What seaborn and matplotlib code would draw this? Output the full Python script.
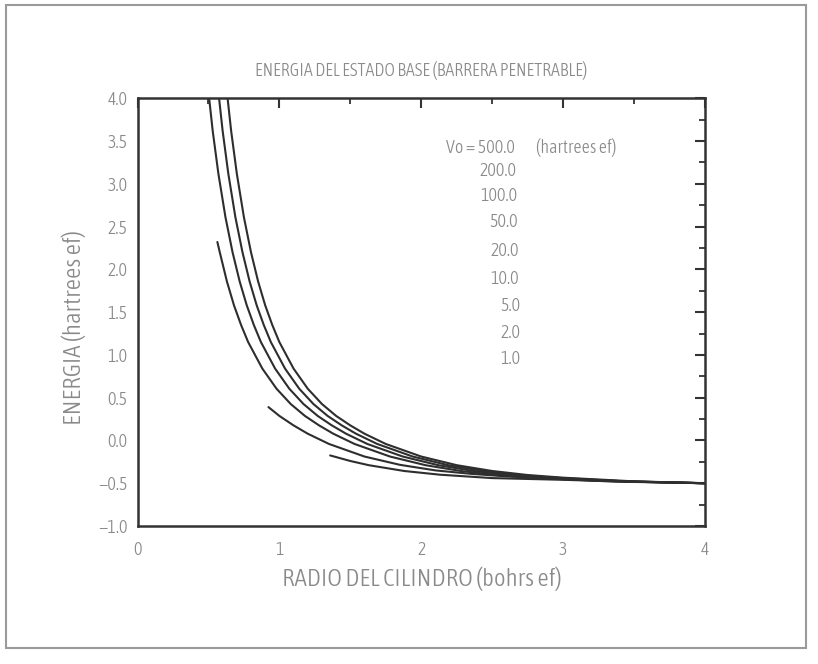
import matplotlib
matplotlib.use("Agg")
import matplotlib.pyplot as plt
import seaborn as sns
import pandas as pd
from matplotlib.patches import Rectangle
from matplotlib.ticker import MultipleLocator
from matplotlib import font_manager as fm

# ---- data ----
r_c1 = [0.635, 0.66, 0.70, 0.75, 0.80, 0.85, 0.90, 0.95, 1.00, 1.10, 1.20, 1.30, 1.40, 1.50,
        1.60, 1.75, 2.00, 2.25, 2.50, 2.75, 3.00, 3.50, 4.00]
e_c1 = [4.00, 3.62, 3.12, 2.61, 2.20, 1.86, 1.58, 1.35, 1.15, 0.84, 0.605, 0.426, 0.287, 0.176,
        0.079, -0.041, -0.188, -0.289, -0.357, -0.404, -0.435, -0.478, -0.50]

r_c2 = [0.575, 0.60, 0.64, 0.69, 0.74, 0.79, 0.84, 0.89, 0.94, 1.04, 1.14, 1.24, 1.34, 1.44,
        1.54, 1.69, 1.94, 2.19, 2.44, 2.69, 2.94, 3.44, 4.00]
e_c2 = [4.00, 3.62, 3.12, 2.61, 2.20, 1.86, 1.58, 1.35, 1.15, 0.84, 0.605, 0.426, 0.287, 0.176,
        0.079, -0.041, -0.188, -0.289, -0.357, -0.404, -0.435, -0.478, -0.50]

r_c3 = [0.505, 0.53, 0.57, 0.62, 0.67, 0.72, 0.77, 0.82, 0.87, 0.97, 1.07, 1.17, 1.27, 1.37,
        1.47, 1.62, 1.87, 2.12, 2.37, 2.62, 2.87, 3.37, 4.00]
e_c3 = [4.00, 3.62, 3.12, 2.61, 2.20, 1.86, 1.58, 1.35, 1.15, 0.84, 0.605, 0.426, 0.287, 0.176,
        0.079, -0.041, -0.188, -0.289, -0.357, -0.404, -0.435, -0.478, -0.50]

r_c4 = [0.563, 0.58, 0.63, 0.68, 0.73, 0.78, 0.88, 0.98, 1.08, 1.18, 1.28, 1.38, 1.53, 1.78,
        2.03, 2.28, 2.53, 2.78, 3.28, 4.00]
e_c4 = [2.32, 2.20, 1.86, 1.58, 1.35, 1.15, 0.84, 0.605, 0.426, 0.287, 0.176, 0.079, -0.041,
        -0.188, -0.289, -0.357, -0.404, -0.435, -0.475, -0.50]

r_c5 = [0.923, 1.00, 1.10, 1.20, 1.35, 1.60, 1.85, 2.10, 2.35, 2.60, 3.10, 3.50, 4.00]
e_c5 = [0.39, 0.287, 0.176, 0.079, -0.041, -0.188, -0.285, -0.35, -0.39, -0.42, -0.46, -0.48, -0.50]

r_c6 = [1.358, 1.50, 1.63, 1.88, 2.13, 2.50, 3.00, 3.50, 4.00]
e_c6 = [-0.175, -0.24, -0.289, -0.357, -0.40, -0.44, -0.46, -0.485, -0.50]

curve_ids = ["c1", "c2", "c3", "c4", "c5", "c6"]
radii = [r_c1, r_c2, r_c3, r_c4, r_c5, r_c6]
energies = [e_c1, e_c2, e_c3, e_c4, e_c5, e_c6]

vo_labels = ["Vo = 500.0", "200.0", "100.0", "50.0", "20.0", "10.0", "5.0", "2.0", "1.0"]
vo_unit = "(hartrees ef)"

title = "ENERGIA DEL ESTADO BASE (BARRERA PENETRABLE)"
xlabel = "RADIO DEL CILINDRO (bohrs ef)"
ylabel = "ENERGIA (hartrees ef)"
xticks = [0, 1, 2, 3, 4]
yticks = [-1.0, -0.5, 0.0, 0.5, 1.0, 1.5, 2.0, 2.5, 3.0, 3.5, 4.0]

# ---- build long table ----
rows = []
for cid, rr, ee in zip(curve_ids, radii, energies):
    for r, e in zip(rr, ee):
        rows.append({"curve": cid, "R": r, "E": e})
df = pd.DataFrame(rows)

sns.set_theme(style="white")

# pick a narrow / condensed font if one is installed
cands = []
for f in fm.fontManager.ttflist:
    nm = f.name.lower()
    narrow = ("narrow" in nm) or ("condensed" in nm) or (str(f.stretch) in
             ("condensed", "semi-condensed", "extra-condensed", "ultra-condensed"))
    if narrow and f.style == "normal" and "mono" not in nm and "serif" not in nm.replace("sans", ""):
        w = f.weight if isinstance(f.weight, int) else 400
        cands.append((abs(w - 300), f))
if cands:
    cands.sort(key=lambda t: t[0])
    FP = fm.FontProperties(fname=cands[0][1].fname)
    scale = 1.0
else:
    FP = fm.FontProperties(family=["Liberation Sans", "DejaVu Sans"])
    scale = 0.85

plt.rcParams["font.family"] = ["Liberation Sans", "DejaVu Sans"]

def fprop(size):
    p = FP.copy()
    p.set_size(size * scale)
    return p

W, H = 818, 664
fig = plt.figure(figsize=(W / 100, H / 100), dpi=100)
fig.patch.set_facecolor("white")

x0, x1 = 137.5, 705.0
y0, y1 = 98.3, 526.0
ax = fig.add_axes([x0 / W, 1 - y1 / H, (x1 - x0) / W, (y1 - y0) / H])

sns.lineplot(data=df, x="R", y="E", hue="curve", units="curve", estimator=None,
             palette=["#2e2e2e"] * len(curve_ids), legend=False, linewidth=1.5,
             sort=True, ax=ax)

ax.set_xlim(0, 4)
ax.set_ylim(-1.0, 4.0)
ax.set_xticks(xticks)
ax.set_xticklabels([str(t) for t in xticks], fontproperties=fprop(13))
ax.set_yticks(yticks)
ax.set_yticklabels([f"{t:.1f}".replace("-", "\u2212") for t in yticks], fontproperties=fprop(13))
ax.xaxis.set_minor_locator(MultipleLocator(0.5))
ax.yaxis.set_minor_locator(MultipleLocator(0.25))

tc = "#8a8a8a"
ax.tick_params(axis="both", which="major", direction="in", top=True, right=True,
               length=7, width=1.5, color="#333333", labelcolor=tc)
ax.tick_params(axis="both", which="minor", direction="in", top=True, right=True,
               length=4, width=1.3, color="#333333")
ax.tick_params(axis="x", which="major", pad=11)
ax.tick_params(axis="y", which="major", pad=7)
for s in ax.spines.values():
    s.set_color("#333333")
    s.set_linewidth(1.8)

ax.set_xlabel("")
ax.set_ylabel("")

def fx(px):
    return px / W

def fy(py):
    return 1 - py / H

fig.text(fx(421), fy(70), title, ha="center", va="center", color=tc, fontproperties=fprop(13))
fig.text(fx(422), fy(579), xlabel, ha="center", va="center", color=tc, fontproperties=fprop(18))
fig.text(fx(74), fy(328), ylabel, ha="center", va="center", rotation=90, color=tc,
         fontproperties=fprop(18))

px_per_x = (x1 - x0) / 4.0
px_per_y = (y1 - y0) / 5.0
def dx(px):
    return (px - x0) / px_per_x

def dy(py):
    return 4.0 - (py - y0) / px_per_y

label_y = [148, 171, 196, 222, 251, 279, 306, 333, 359]
label_xr = [515, 516, 517, 518, 519, 519, 520, 520, 520]
for lab, py, pxr in zip(vo_labels, label_y, label_xr):
    ax.text(dx(pxr), dy(py), lab, ha="right", va="center", color=tc, fontproperties=fprop(13))
ax.text(dx(536), dy(148), vo_unit, ha="left", va="center", color=tc, fontproperties=fprop(13))

frame = Rectangle((6 / W, 1 - 648 / H), 800 / W, 643 / H, transform=fig.transFigure,
                  fill=False, edgecolor="#9a9a9a", linewidth=1.5)
fig.patches.append(frame)

fig.savefig("out.png", dpi=100, facecolor="white")
